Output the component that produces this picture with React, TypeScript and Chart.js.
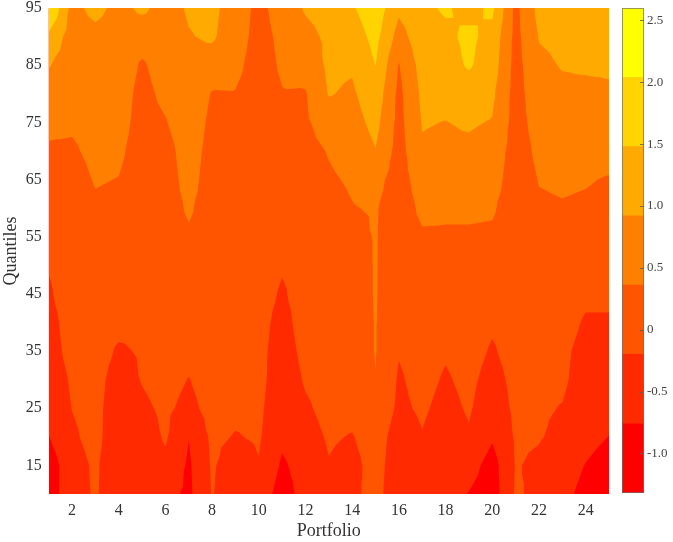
import React, { useEffect, useRef } from 'react';
import { Chart, registerables } from 'chart.js';

Chart.register(...registerables);

// Portfolios (x) and quantiles (y)
const portfolios = [1, 2, 3, 4, 5, 6, 7, 8, 9, 10, 11, 12, 13, 14, 15, 16, 17, 18, 19, 20, 21, 22, 23, 24, 25];
const quantiles = [10, 15, 20, 25, 30, 35, 40, 45, 50, 55, 60, 65, 70, 75, 80, 85, 90, 95];

// Values per quantile row, one entry per portfolio 1..25
const q95 = [2.10, 0.75, 1.09, 0.75, 1.03, 0.70, 0.98, 1.06, 0.64, 0.22, 0.58, 0.98, 1.14, 1.42, 1.82, 1.03, 1.37, 1.54, 1.31, 1.59, 0.22, 1.09, 1.14, 1.20, 1.26];
const q90 = [1.37, 0.64, 0.75, 0.64, 0.58, 0.64, 0.89, 1.00, 0.58, 0.19, 0.47, 0.75, 1.03, 1.20, 1.65, 0.70, 1.26, 1.37, 1.59, 1.31, 0.19, 0.95, 1.03, 1.09, 1.09];
const q85 = [0.95, 0.64, 0.64, 0.64, 0.30, 0.58, 0.75, 0.64, 0.47, 0.16, 0.42, 0.53, 1.03, 0.98, 1.49, 0.33, 1.14, 1.26, 1.54, 1.20, 0.16, 0.81, 0.95, 0.98, 0.98];
const q80 = [0.70, 0.58, 0.58, 0.58, 0.22, 0.47, 0.70, 0.33, 0.34, 0.14, 0.34, 0.33, 0.95, 0.84, 1.26, 0.22, 1.03, 1.09, 1.20, 1.03, 0.14, 0.70, 0.81, 0.81, 0.86];
const q75 = [0.47, 0.42, 0.53, 0.53, 0.19, 0.33, 0.64, 0.25, 0.25, 0.14, 0.25, 0.28, 0.64, 0.70, 1.09, 0.19, 0.95, 0.91, 0.98, 0.89, 0.14, 0.58, 0.70, 0.64, 0.70];
const q70 = [0.30, 0.30, 0.47, 0.44, 0.16, 0.19, 0.58, 0.19, 0.19, 0.14, 0.19, 0.19, 0.39, 0.53, 0.90, 0.14, 0.86, 0.81, 0.81, 0.70, 0.11, 0.47, 0.53, 0.53, 0.53];
const q65 = [0.19, 0.19, 0.39, 0.35, 0.14, 0.14, 0.53, 0.14, 0.14, 0.14, 0.14, 0.14, 0.30, 0.42, 0.53, 0.11, 0.64, 0.64, 0.64, 0.58, 0.08, 0.38, 0.42, 0.39, 0.33];
const q60 = [0.08, 0.14, 0.30, 0.25, 0.14, 0.14, 0.42, 0.14, 0.14, 0.14, 0.08, 0.14, 0.19, 0.34, 0.40, 0.08, 0.47, 0.44, 0.44, 0.42, 0.08, 0.30, 0.33, 0.30, 0.25];
const q55 = [-0.03, 0.14, 0.19, 0.19, 0.08, 0.14, 0.30, 0.14, 0.14, 0.14, -0.03, 0.14, 0.14, 0.19, 0.39, 0.08, 0.30, 0.30, 0.30, 0.28, 0.08, 0.19, 0.19, 0.19, 0.14];
const q50 = [-0.17, 0.14, 0.14, 0.14, 0.08, 0.14, 0.19, 0.14, 0.14, 0.14, -0.14, 0.08, 0.14, 0.14, 0.39, 0.05, 0.19, 0.19, 0.19, 0.14, 0.08, 0.14, 0.14, 0.08, 0.08];
const q45 = [-0.28, 0.14, 0.14, 0.08, 0.02, 0.14, 0.14, 0.14, 0.14, 0.08, -0.28, 0.08, 0.14, 0.14, 0.39, 0.02, 0.14, 0.08, 0.14, 0.02, 0.08, 0.08, 0.08, -0.09, -0.09];
const q40 = [-0.42, 0.08, 0.08, -0.03, -0.06, 0.14, 0.08, 0.14, 0.08, 0.02, -0.42, 0.08, 0.08, 0.11, 0.38, -0.03, 0.08, -0.03, 0.08, -0.12, 0.05, 0.02, 0.02, -0.26, -0.26];
const q35 = [-0.42, -0.03, 0.08, -0.28, -0.14, 0.08, -0.03, 0.11, 0.02, -0.03, -0.48, -0.03, 0.08, 0.08, 0.38, -0.17, 0.02, -0.14, 0.02, -0.26, 0.02, -0.03, -0.09, -0.37, -0.37];
const q30 = [-0.48, -0.14, 0.02, -0.48, -0.17, 0.02, -0.22, 0.08, -0.03, -0.03, -0.54, -0.14, 0.02, 0.02, 0.35, -0.26, -0.03, -0.26, -0.06, -0.42, -0.03, -0.09, -0.12, -0.42, -0.48];
const q25 = [-0.54, -0.19, -0.03, -0.54, -0.31, -0.09, -0.37, 0.02, -0.09, -0.09, -0.59, -0.28, -0.03, -0.03, 0.25, -0.31, -0.12, -0.37, -0.14, -0.54, -0.09, -0.14, -0.22, -0.48, -0.59];
const q20 = [-0.78, -0.28, -0.03, -0.59, -0.48, -0.14, -0.75, -0.09, -0.23, -0.14, -0.65, -0.42, -0.14, -0.23, 0.08, -0.48, -0.23, -0.48, -0.26, -0.70, -0.14, -0.17, -0.31, -0.59, -0.77];
const q15 = [-1.04, -0.42, -0.12, -0.59, -0.54, -0.31, -0.84, -0.14, -0.48, -0.23, -0.84, -0.54, -0.23, -0.37, 0.02, -0.54, -0.42, -0.54, -0.54, -0.98, -0.17, -0.28, -0.48, -0.78, -0.98];
const q10 = [-1.04, -0.42, -0.14, -0.54, -0.54, -0.59, -0.87, -0.17, -0.54, -0.42, -1.01, -0.54, -0.37, -0.31, -0.03, -0.54, -0.54, -0.54, -0.78, -1.04, -0.14, -0.31, -0.59, -0.93, -1.04];

const rows = [q10, q15, q20, q25, q30, q35, q40, q45, q50, q55, q60, q65, q70, q75, q80, q85, q90, q95];

// Contour levels and colours (autumn map, 7 bands)
const levels = [-1.32, -0.76, -0.2, 0.36, 0.92, 1.48, 2.04, 2.6];
const bandColors = ['#ff0000', '#ff2a00', '#ff5500', '#ff8000', '#ffaa00', '#ffd400', '#ffff00'];

const xTicks = [2, 4, 6, 8, 10, 12, 14, 16, 18, 20, 22, 24];
const yTicks = [15, 25, 35, 45, 55, 65, 75, 85, 95];
const cbTicks = [-1, -0.5, 0, 0.5, 1, 1.5, 2, 2.5];

const FONT = '"Liberation Serif", "Times New Roman", serif';
const TEXT = '#333333';

type P = { x: number; y: number; v: number };

function clipAbove(poly: P[], L: number): P[] {
  const out: P[] = [];
  for (let i = 0; i < poly.length; i++) {
    const a = poly[i];
    const b = poly[(i + 1) % poly.length];
    const ain = a.v >= L;
    const bin = b.v >= L;
    if (ain) out.push(a);
    if (ain !== bin) {
      const t = (L - a.v) / (b.v - a.v);
      out.push({ x: a.x + t * (b.x - a.x), y: a.y + t * (b.y - a.y), v: L });
    }
  }
  return out;
}

const contourPlugin = {
  id: 'contourFill',
  beforeDatasetsDraw(chart: any) {
    const { ctx, chartArea, scales } = chart;
    const xs = scales.x;
    const ys = scales.y;
    const pts: P[][] = rows.map((row, j) =>
      row.map((v, i) => ({ x: xs.getPixelForValue(portfolios[i]), y: ys.getPixelForValue(quantiles[j]), v }))
    );
    const tris: P[][] = [];
    for (let j = 0; j < quantiles.length - 1; j++) {
      for (let i = 0; i < portfolios.length - 1; i++) {
        const a = pts[j][i];
        const b = pts[j][i + 1];
        const c = pts[j + 1][i + 1];
        const d = pts[j + 1][i];
        const m: P = { x: (a.x + b.x + c.x + d.x) / 4, y: (a.y + b.y + c.y + d.y) / 4, v: (a.v + b.v + c.v + d.v) / 4 };
        tris.push([m, a, b], [m, b, c], [m, c, d], [m, d, a]);
      }
    }
    ctx.save();
    ctx.beginPath();
    ctx.rect(chartArea.left, chartArea.top, chartArea.width, chartArea.height);
    ctx.clip();
    for (let k = 0; k < bandColors.length; k++) {
      ctx.beginPath();
      for (const t of tris) {
        const poly = k === 0 ? t : clipAbove(t, levels[k]);
        if (poly.length < 3) continue;
        ctx.moveTo(poly[0].x, poly[0].y);
        for (let n = 1; n < poly.length; n++) ctx.lineTo(poly[n].x, poly[n].y);
        ctx.closePath();
      }
      ctx.fillStyle = bandColors[k];
      ctx.fill();
    }
    ctx.restore();
  },
};

const colorbarPlugin = {
  id: 'colorbarFrame',
  afterDatasetsDraw(chart: any) {
    const { ctx, chartArea, scales } = chart;
    const ys = scales.y;
    ctx.save();
    ctx.strokeStyle = 'rgba(110,110,110,0.7)';
    ctx.lineWidth = 1;
    ctx.strokeRect(chartArea.left + 0.5, chartArea.top + 0.5, chartArea.width - 1, chartArea.height - 1);
    ctx.strokeStyle = 'rgba(90,90,90,0.8)';
    for (const v of cbTicks) {
      const y = Math.round(ys.getPixelForValue(v)) + 0.5;
      ctx.beginPath();
      ctx.moveTo(chartArea.right - 4, y);
      ctx.lineTo(chartArea.right, y);
      ctx.stroke();
    }
    ctx.restore();
  },
};

const noVerticalPadding = (axis: any) => {
  axis.paddingTop = 0;
  axis.paddingBottom = 0;
};

export default function App() {
  const mainRef = useRef<HTMLCanvasElement>(null);
  const cbRef = useRef<HTMLCanvasElement>(null);

  useEffect(() => {
    if (!mainRef.current || !cbRef.current) return;
    const main = new Chart(mainRef.current, {
      type: 'scatter',
      data: { datasets: [{ data: [], pointRadius: 0 }] },
      options: {
        responsive: false,
        maintainAspectRatio: false,
        animation: false,
        layout: { padding: { left: 0, right: 64, top: 8, bottom: 0 } },
        plugins: { legend: { display: false }, tooltip: { enabled: false } },
        scales: {
          x: {
            type: 'linear',
            min: 1,
            max: 25,
            afterBuildTicks: (axis: any) => {
              axis.ticks = xTicks.map((v) => ({ value: v }));
            },
            afterFit: (axis: any) => {
              axis.height = 48;
              axis.paddingLeft = 0;
              axis.paddingRight = 0;
            },
            grid: { display: false, drawTicks: false },
            border: { display: false },
            ticks: { padding: 7, autoSkip: false, maxRotation: 0, color: TEXT, font: { family: FONT, size: 16 } },
            title: { display: true, text: 'Portfolio', color: TEXT, font: { family: FONT, size: 18 }, padding: { top: 0, bottom: 0 } },
          },
          y: {
            type: 'linear',
            min: 10,
            max: 95,
            afterBuildTicks: (axis: any) => {
              axis.ticks = yTicks.map((v) => ({ value: v }));
            },
            afterFit: (axis: any) => {
              axis.width = 48.7;
              noVerticalPadding(axis);
            },
            grid: { display: false, drawTicks: false },
            border: { display: false },
            ticks: { padding: 7, autoSkip: false, color: TEXT, font: { family: FONT, size: 16 } },
            title: { display: true, text: 'Quantiles', color: TEXT, font: { family: FONT, size: 18 }, padding: { top: 0, bottom: 0 } },
          },
        },
      },
      plugins: [contourPlugin],
    } as any);

    const cb = new Chart(cbRef.current, {
      type: 'bar',
      data: {
        labels: ['c'],
        datasets: bandColors.map((c, k) => ({
          data: [[levels[k], levels[k + 1]]],
          backgroundColor: c,
          borderWidth: 0,
          barPercentage: 1,
          categoryPercentage: 1,
          grouped: false,
        })),
      },
      options: {
        responsive: false,
        maintainAspectRatio: false,
        animation: false,
        layout: { padding: { left: 12, right: 0, top: 8, bottom: 49 } },
        plugins: { legend: { display: false }, tooltip: { enabled: false } },
        scales: {
          x: { display: false },
          y: {
            position: 'right',
            min: levels[0],
            max: levels[levels.length - 1],
            afterBuildTicks: (axis: any) => {
              axis.ticks = cbTicks.map((v) => ({ value: v }));
            },
            afterFit: (axis: any) => {
              axis.width = 29;
              noVerticalPadding(axis);
            },
            grid: { display: false, drawTicks: false },
            border: { display: false },
            ticks: { padding: 3, autoSkip: false, color: '#444444', font: { family: FONT, size: 13 } },
          },
        },
      },
      plugins: [colorbarPlugin],
    } as any);

    return () => {
      main.destroy();
      cb.destroy();
    };
  }, []);

  return (
    <div style={{ position: 'absolute', left: 0, top: 0, width: 673, height: 542, background: '#ffffff' }}>
      <canvas ref={mainRef} width={673} height={542} style={{ position: 'absolute', left: 0, top: 0, width: 673, height: 542 }} />
      <canvas ref={cbRef} width={63} height={542} style={{ position: 'absolute', left: 610, top: 0, width: 63, height: 542 }} />
    </div>
  );
}
